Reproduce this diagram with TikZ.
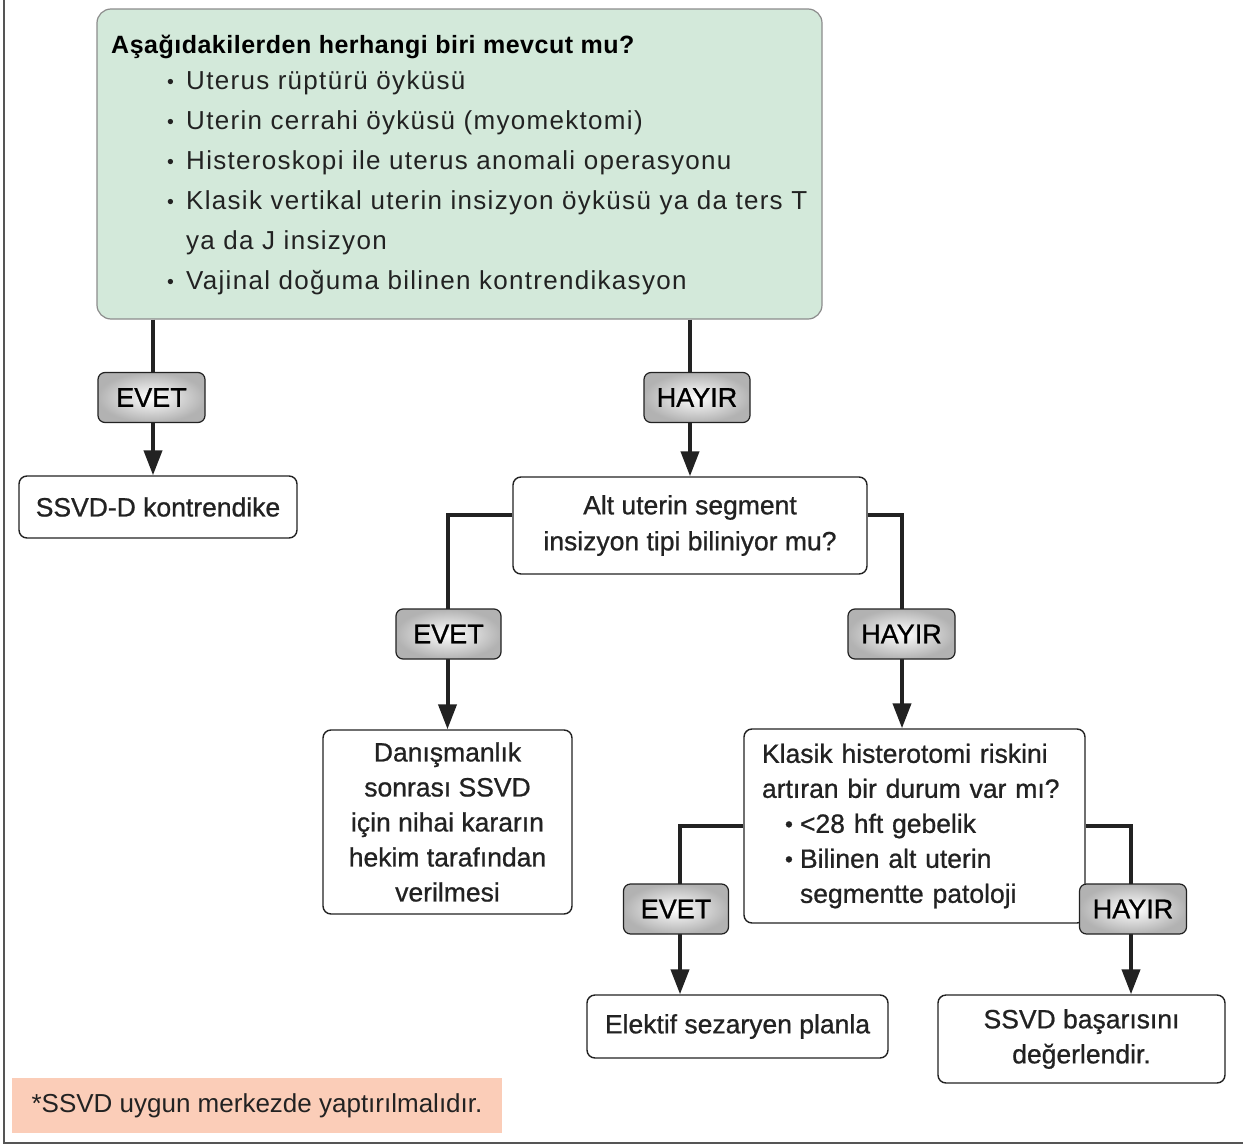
\documentclass[tikz,border=0pt]{standalone}
\usepackage{fontspec}
\usepackage{graphicx}
\setmainfont{Liberation Sans}
\newfontfamily\spacedfont[LetterSpace=5]{Liberation Sans}
\newfontfamily\headfont[LetterSpace=2]{Liberation Sans}
\newfontfamily\boxfont[FakeBold=0.8]{Liberation Sans}
\usetikzlibrary{arrows.meta}

\definecolor{qgreen}{HTML}{D3E9DA}
\definecolor{qedge}{HTML}{8C8C8C}
\definecolor{notepink}{HTML}{FBCDB8}
\definecolor{ink}{HTML}{222222}
\definecolor{frameline}{HTML}{555555}

\newcommand\kbul{\hspace*{23pt}\makebox[15pt][l]{\raisebox{1pt}{\scalebox{0.85}{•}}}}
\newcommand\kind{\hspace*{23pt}\makebox[15pt][l]{}}
\newcommand\tbul{\makebox[19pt][l]{\raisebox{1pt}{\scalebox{0.75}{•}}}}

\tikzset{
  box/.style={draw=ink, line width=1.4pt, rounded corners=8pt, fill=white,
    align=center, inner sep=0pt, text=ink,
    font=\boxfont\fontsize{26.5}{35}\selectfont},
  lbl/.style={draw=ink, line width=1.2pt, rounded corners=7pt,
    inner color=white, outer color=black!30,
    minimum height=50pt, inner sep=0pt, text=black,
    font=\boxfont\fontsize{27}{30}\selectfont},
  conn/.style={draw=ink, line width=4pt},
  arr/.style={conn, -{Triangle[length=25pt,width=18pt]}},
  qline/.style={anchor=base west, inner sep=0pt, text=ink,
    font=\spacedfont\fontsize{26}{30}\selectfont},
}

\begin{document}
\begin{tikzpicture}[x=1pt,y=-1pt]
\useasboundingbox (0,0) rectangle (1243,1146);

% page frame (left and bottom edges only)
\draw[frameline, line width=1.5pt] (4,0) -- (4,1143) -- (1243,1143);

% x positions of the vertical connectors
\coordinate (j1) at (153,0);
\coordinate (j2) at (690,0);
\coordinate (j3) at (680,0);
\coordinate (j4) at (1131,0);
\coordinate (j5) at (902,0);

% question box with its list
\node[draw=qedge, fill=qgreen, line width=1.2pt, rounded corners=14pt,
      minimum width=725pt, minimum height=310pt, inner sep=0pt] (top) at (459.5,164) {};
\node[anchor=base west, inner sep=0pt, text=black,
      font=\headfont\bfseries\fontsize{25}{30}\selectfont] (q0) at (111,53)
      {Aşağıdakilerden herhangi biri mevcut mu?};
\node[qline] (q1) at (167,89)  {\tbul Uterus rüptürü öyküsü};
\node[qline] (q2) at (167,129) {\tbul Uterin cerrahi öyküsü (myomektomi)};
\node[qline] (q3) at (167,169) {\tbul Histeroskopi ile uterus anomali operasyonu};
\node[qline] (q4) at (167,209) {\tbul Klasik vertikal uterin insizyon öyküsü ya da ters T};
\node[qline] (q5) at (186,249) {ya da J insizyon};
\node[qline] (q6) at (167,289) {\tbul Vajinal doğuma bilinen kontrendikasyon};

% outcome and decision boxes
\node[box, minimum width=278pt, minimum height=62pt] (ssvdd) at (158,507) {SSVD-D kontrendike};
\node[box, minimum width=354pt, minimum height=97pt, font=\boxfont\fontsize{26.5}{36}\selectfont]
  (alt) at (690,525.5) {Alt uterin segment\\insizyon tipi biliniyor mu?};
\node[box, minimum width=249pt, minimum height=184pt] (dan) at (447.5,822)
  {Danışmanlık\\sonrası SSVD\\için nihai kararın\\hekim tarafından\\verilmesi};
\node[box, align=left, text width=305pt, minimum width=341pt, minimum height=194pt]
  (klasik) at (914.5,826)
  {Klasik histerotomi riskini\\artıran bir durum var mı?\\
   \kbul <28 hft gebelik\\\kbul Bilinen alt uterin\\\kind segmentte patoloji};
\node[box, minimum width=301pt, minimum height=63pt] (elektif) at (737.5,1026.5) {Elektif sezaryen planla};
\node[box, minimum width=287pt, minimum height=88pt] (ssvdb) at (1081.5,1039)
  {SSVD başarısını\\değerlendir.};

% footnote
\node[fill=notepink, minimum width=490pt, minimum height=55pt, inner sep=0pt,
      text=ink, font=\fontsize{26}{30}\selectfont] (note) at (257,1105.5)
  {*SSVD uygun merkezde yaptırılmalıdır.};

% connectors
\draw[arr] (top.south -| j1) -- (ssvdd.north -| j1);
\draw[arr] (top.south -| j2) -- (alt.north -| j2);
\draw[arr] ([yshift=10.5pt]alt.west) -| (dan.north);
\draw[arr] ([yshift=10.5pt]alt.east) -| (klasik.north -| j5);
\draw[arr] (klasik.west) -| (elektif.north -| j3);
\draw[arr] (klasik.east) -| (ssvdb.north -| j4);

% answer labels on the connectors
\node[lbl, minimum width=107pt] (evet1)  at (151.5,397.5) {EVET};
\node[lbl, minimum width=106pt] (hayir1) at (697,397.5)   {HAYIR};
\node[lbl, minimum width=105pt] (evet2)  at (448.5,634)   {EVET};
\node[lbl, minimum width=107pt] (hayir2) at (901.5,634)   {HAYIR};
\node[lbl, minimum width=105pt] (evet3)  at (676,909)     {EVET};
\node[lbl, minimum width=107pt] (hayir3) at (1133,909)    {HAYIR};
\end{tikzpicture}
\end{document}
